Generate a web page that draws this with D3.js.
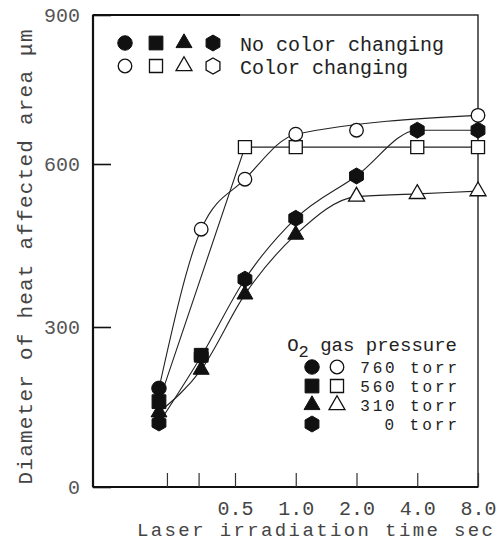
<!DOCTYPE html>
<html><head><meta charset="utf-8">
<script src="https://cdn.jsdelivr.net/npm/d3@7"></script>
<style>body{margin:0;background:#fff} svg{display:block}</style>
</head><body>
<script>
// ---- data ----
const times = [0.21, 0.34, 0.56, 1, 2, 4, 8];            // irradiation time, sec
const yTicks = [0, 300, 600, 900];
const xTicks = [0.23, 0.33, 0.5, 1, 2, 4, 8];
const xTickLabels = ["", "", "0.5", "1.0", "2.0", "4.0", "8.0"];
const pressureLabels = ["760 torr", "560 torr", "310 torr", "0 torr"];
const topLegendLabels = ["No color changing", "Color changing"];

// 760 torr (circles)
const d760 = [185, 480, 572, 660, 668, null, 698];
const filled760 = [1, 0, 0, 0, 0, 0, 0];
const curve760 = [1, 1, 1, 1, 0, 0, 1];
// 560 torr (squares)
const d560 = [160, 247, 634, 634, null, 634, 634];
const filled560 = [1, 1, 0, 0, 0, 0, 0];
const curve560 = [1, 0, 1, 1, 0, 1, 1];
// 310 torr (triangles)
const d310 = [140, 220, 360, 470, 540, 545, 550];
const filled310 = [1, 1, 1, 1, 0, 0, 0];
const curve310 = [1, 1, 1, 1, 1, 1, 1];
// 0 torr (hexagons)
const d0 = [120, 245, 388, 500, 578, 668, 668];
const filled0 = [1, 1, 1, 1, 1, 1, 1];
const curve0 = [1, 1, 1, 1, 1, 1, 1];

const series = [
  {name: "0 torr", shape: "hexagon", vals: d0, filled: filled0, onCurve: curve0, curve: d3.curveMonotoneX},
  {name: "310 torr", shape: "triangle", vals: d310, filled: filled310, onCurve: curve310, curve: d3.curveMonotoneX},
  {name: "560 torr", shape: "square", vals: d560, filled: filled560, onCurve: curve560, curve: d3.curveLinear},
  {name: "760 torr", shape: "circle", vals: d760, filled: filled760, onCurve: curve760, curve: d3.curveMonotoneX}
];

// ---- layout ----
const W = 498, H = 543;
const pLeft = 93, pRight = 478, pTop = 15, pBottom = 487;
const FONT = "'Liberation Mono', 'DejaVu Sans Mono', monospace";

const svg = d3.select("body").append("svg").attr("width", W).attr("height", H);

const x = d3.scaleLog().base(2).domain([0.5, 8]).range([235, pRight]);
const y = d3.scaleLinear().domain(yTicks).range([pBottom, 327, 164, pTop]);

function symbolPath(shape, filled) {
  if (shape === "hexagon") {
    const r = 8;
    const pts = d3.range(6).map(k => {
      const a = -Math.PI / 2 + k * Math.PI / 3;
      return [r * Math.cos(a), r * Math.sin(a)];
    });
    return "M" + pts.map(p => p.join(",")).join("L") + "Z";
  }
  const type = shape === "circle" ? d3.symbolCircle : shape === "square" ? d3.symbolSquare : d3.symbolTriangle;
  const size = shape === "circle" ? (filled ? 165 : 145) : shape === "square" ? (filled ? 190 : 170) : 110;
  return d3.symbol().type(type).size(size)();
}

// frame
svg.append("rect").attr("x", pLeft).attr("y", pTop).attr("width", pRight - pLeft).attr("height", pBottom - pTop)
  .attr("fill", "none").attr("stroke", "#222").attr("stroke-width", 1.4);
svg.append("line").attr("x1", pLeft).attr("x2", pLeft).attr("y1", pTop).attr("y2", pBottom)
  .attr("stroke", "#111").attr("stroke-width", 2.2);
svg.append("line").attr("x1", pLeft).attr("x2", pRight).attr("y1", pBottom).attr("y2", pBottom)
  .attr("stroke", "#111").attr("stroke-width", 2.2);
svg.append("line").attr("x1", pLeft).attr("x2", 240).attr("y1", pTop).attr("y2", pTop)
  .attr("stroke", "#111").attr("stroke-width", 2.2);

// y axis
const gy = svg.append("g").attr("transform", `translate(${pLeft},0)`)
  .call(d3.axisLeft(y).tickValues(yTicks).tickSize(-18).tickSizeOuter(0).tickPadding(13));
gy.select(".domain").remove();
gy.selectAll(".tick line").attr("stroke", "#111").attr("stroke-width", 1.6);
gy.selectAll(".tick text").attr("font-family", FONT).attr("font-size", 20).attr("fill", "#555");

// x axis
const gx = svg.append("g").attr("transform", `translate(0,${pBottom})`)
  .call(d3.axisBottom(x).tickValues(xTicks).tickFormat((d, i) => xTickLabels[i]).tickSize(-14).tickSizeOuter(0).tickPadding(14));
gx.select(".domain").remove();
gx.selectAll(".tick line").attr("stroke", "#333").attr("stroke-width", 1.2);
gx.selectAll(".tick text").attr("font-family", FONT).attr("font-size", 20).attr("fill", "#444");

// axis titles
svg.append("text").attr("x", 315).attr("y", 536).attr("text-anchor", "middle")
  .attr("font-family", FONT).attr("font-size", 19).attr("fill", "#444")
  .attr("textLength", 356).attr("lengthAdjust", "spacing")
  .text("Laser irradiation time sec");
svg.append("text").attr("transform", "translate(32,257) rotate(-90)").attr("text-anchor", "middle")
  .attr("font-family", FONT).attr("font-size", 21).attr("fill", "#444")
  .attr("textLength", 455).attr("lengthAdjust", "spacing")
  .text("Diameter of heat affected area  \u03bcm");

// lines
series.forEach(s => {
  const line = d3.line().x(d => x(d.t)).y(d => y(d.v)).curve(s.curve);
  const pts = times.map((t, i) => ({t, v: s.vals[i], c: s.onCurve[i]})).filter(d => d.v !== null && d.c);
  svg.append("path").attr("d", line(pts)).attr("fill", "none").attr("stroke", "#222").attr("stroke-width", 1.1);
});

// markers
series.forEach(s => {
  times.forEach((t, i) => {
    const v = s.vals[i];
    if (v === null) return;
    const f = s.filled[i];
    svg.append("path").attr("d", symbolPath(s.shape, f))
      .attr("transform", `translate(${x(t)},${y(v)})`)
      .attr("fill", f ? "#111" : "#fff").attr("stroke", "#111").attr("stroke-width", f ? 1 : 1.3);
  });
});

// top legend
const legShapes = ["circle", "square", "triangle", "hexagon"];
const legX = [125, 156, 184, 213];
[43, 66].forEach((ly, row) => {
  legShapes.forEach((sh, k) => {
    svg.append("path").attr("d", symbolPath(sh, row === 0)).attr("transform", `translate(${legX[k]},${ly})`)
      .attr("fill", row === 0 ? "#111" : "#fff").attr("stroke", "#111").attr("stroke-width", row === 0 ? 1 : 1.3);
  });
  svg.append("text").attr("x", 240).attr("y", ly + 8).attr("font-family", FONT).attr("font-size", 20)
    .attr("fill", "#222").text(topLegendLabels[row]);
});

// pressure legend
const pt = svg.append("text").attr("x", 457).attr("y", 351).attr("text-anchor", "end")
  .attr("font-family", FONT).attr("font-size", 19).attr("fill", "#222");
pt.append("tspan").text("O");
pt.append("tspan").attr("dy", 6).attr("font-size", 17).text("2");
pt.append("tspan").attr("dy", -6).text(" gas pressure");
const rowY = [367, 386, 405, 424];
const pShapes = ["circle", "square", "triangle", "hexagon"];
pressureLabels.forEach((lab, k) => {
  svg.append("path").attr("d", symbolPath(pShapes[k], 1)).attr("transform", `translate(312,${rowY[k]})`)
    .attr("fill", "#111").attr("stroke", "#111");
  if (k < 3) {
    svg.append("path").attr("d", symbolPath(pShapes[k], 0)).attr("transform", `translate(337,${rowY[k]})`)
      .attr("fill", "#fff").attr("stroke", "#111").attr("stroke-width", 1.3);
  }
  svg.append("text").attr("x", 457).attr("y", rowY[k] + 6).attr("text-anchor", "end")
    .attr("font-family", FONT).attr("font-size", 16).attr("fill", "#222")
    .attr("textLength", lab.length * 12.1).attr("lengthAdjust", "spacing").text(lab);
});
</script>
</body></html>
